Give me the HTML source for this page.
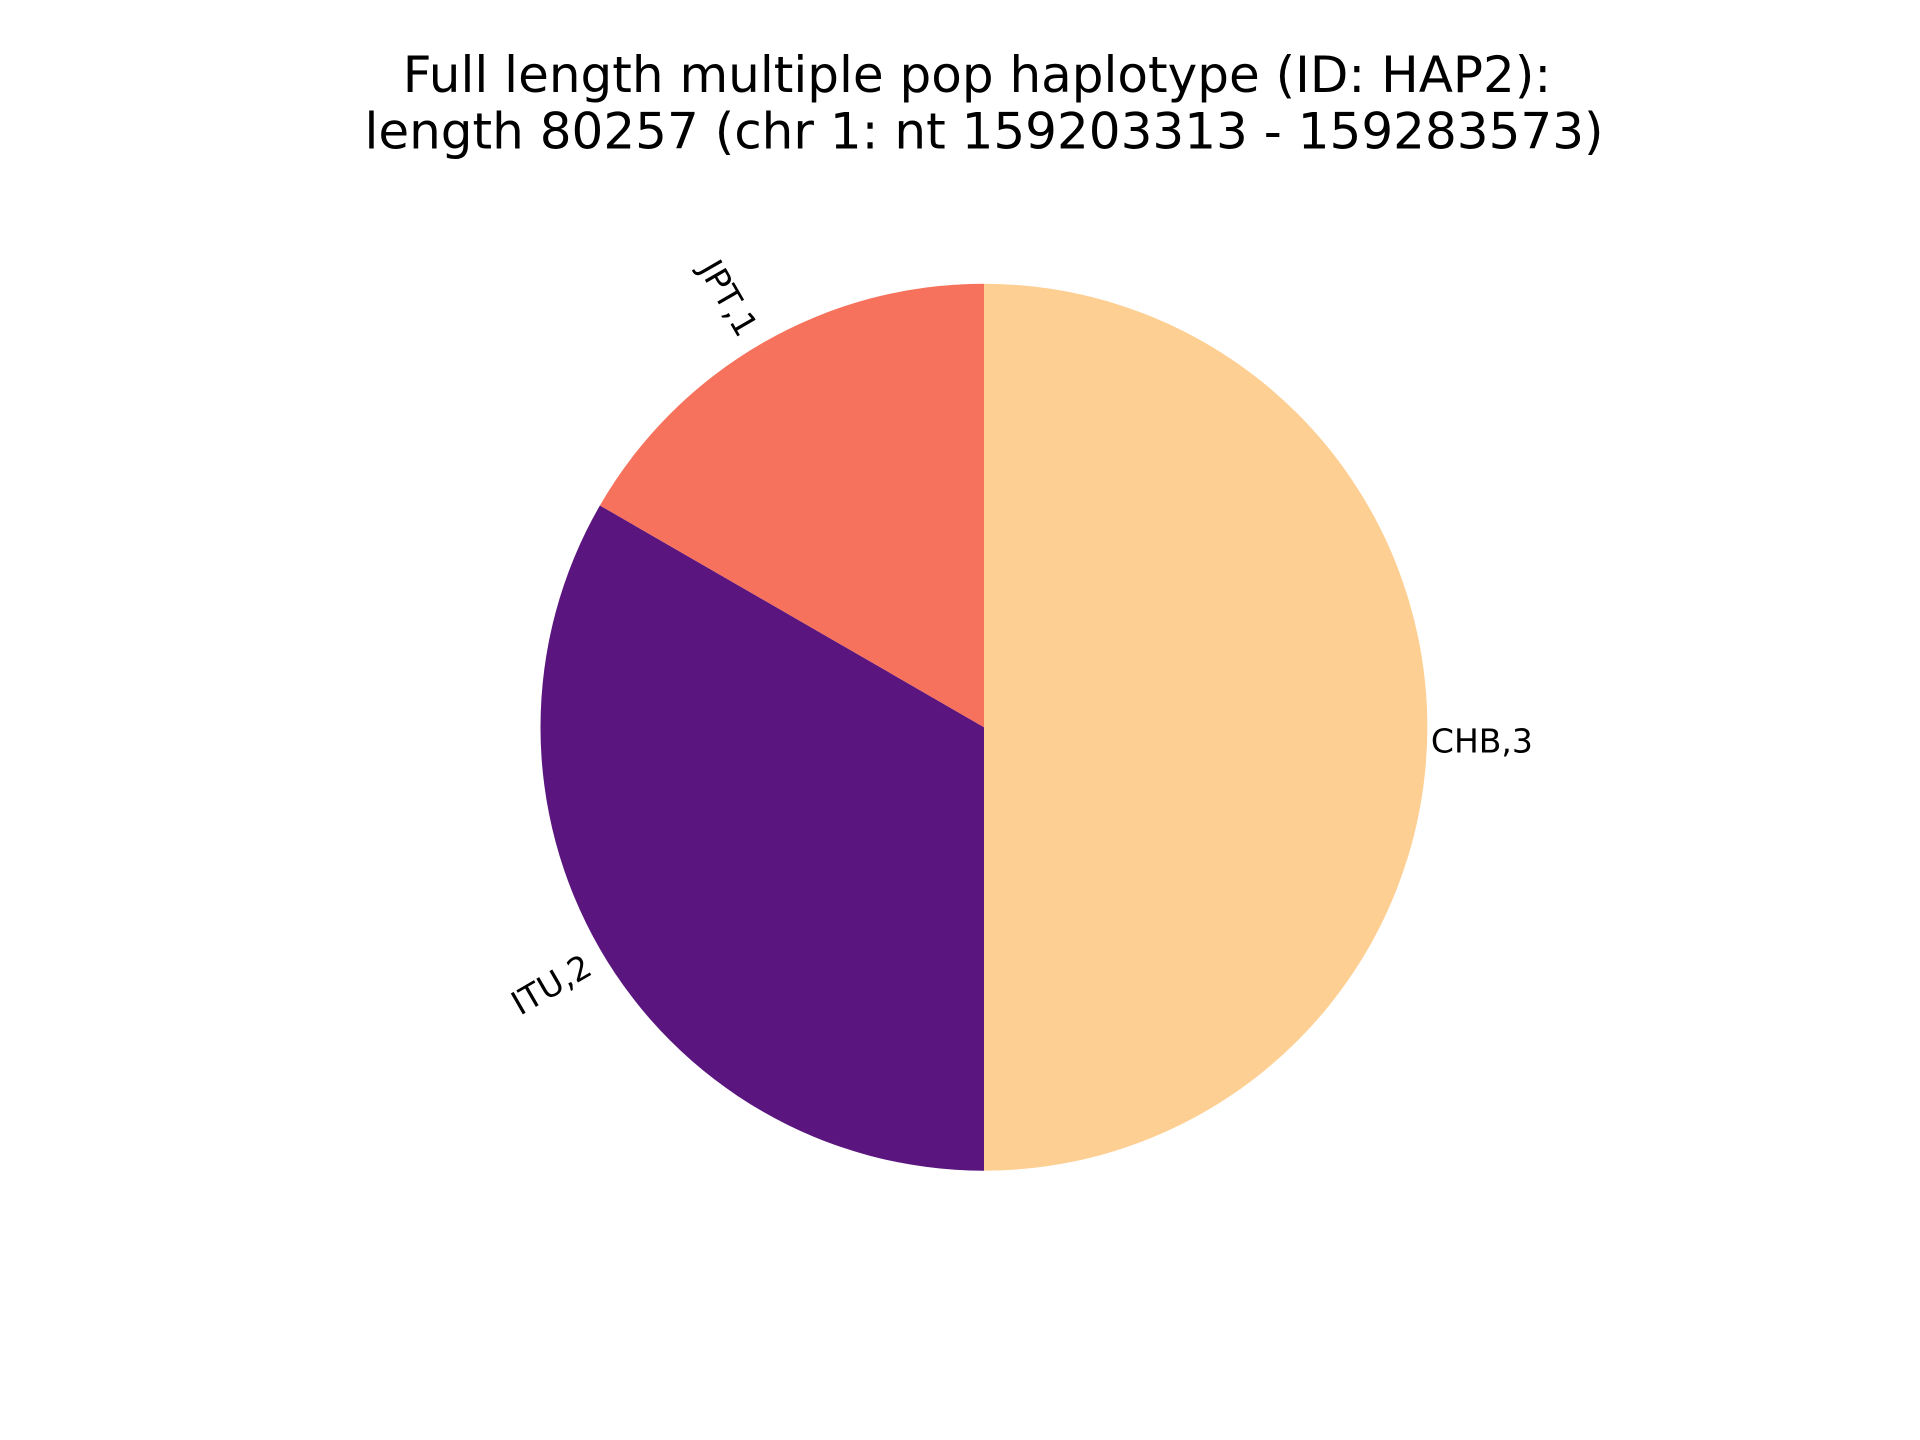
<!DOCTYPE html>
<html lang="en">
<head>
<meta charset="utf-8">
<title>Full length multiple pop haplotype (ID: HAP2)</title>
<style>
html,body{margin:0;padding:0;background:#fff;width:1920px;height:1440px;overflow:hidden}
svg{display:block}
text{font-family:"DejaVu Sans",sans-serif;fill:#000}
</style>
</head>
<body>
<svg id="chart" xmlns="http://www.w3.org/2000/svg" width="1920" height="1440" viewBox="0 0 1920 1440">
  <rect width="1920" height="1440" fill="#ffffff"/>
  <g text-anchor="middle" font-size="50">
    <text x="977" y="92">Full length multiple pop haplotype (ID: HAP2):</text>
    <text x="984" y="148.5">length 80257 (chr 1: nt 159203313 - 159283573)</text>
  </g>
  <g id="wedges"></g>
  <g id="labels" font-size="33"></g>
</svg>
<script>
const categories = ['CHB', 'ITU', 'JPT'];
const counts = [3, 2, 1];
const sliceColors = ['#fecf92', '#5a167e', '#f7725c'];

const cx = 984, cy = 727.2, radius = 443.5;
const startAngle = 90, labelDistance = 1.01, labelFontSize = 33;
const leftPerp = -7, rightAlong = -1;
const svgNS = 'http://www.w3.org/2000/svg';
const wedgeLayer = document.getElementById('wedges');
const labelLayer = document.getElementById('labels');
const total = counts.reduce((a, b) => a + b, 0);

function angleOf(cumulative) {
  return startAngle - cumulative / total * 360;
}
function px(deg, r) {
  return cx + r * Math.cos(deg * Math.PI / 180);
}
function py(deg, r) {
  return cy - r * Math.sin(deg * Math.PI / 180);
}
function leftAlong(rotation) {
  return -15.5 + 5.5 * Math.abs(Math.sin(rotation * Math.PI / 180));
}

let running = 0;
counts.forEach(function (value, i) {
  const a0 = angleOf(running);
  const a1 = angleOf(running + value);
  const mid = (a0 + a1) / 2;
  running += value;
  const large = (a0 - a1) > 180 ? 1 : 0;

  const path = document.createElementNS(svgNS, 'path');
  path.setAttribute('d', 'M' + cx + ' ' + cy + ' L' + px(a0, radius) + ' ' + py(a0, radius) +
    ' A' + radius + ' ' + radius + ' 0 ' + large + ' 1 ' + px(a1, radius) + ' ' + py(a1, radius) + ' Z');
  path.setAttribute('fill', sliceColors[i]);
  
  
  wedgeLayer.appendChild(path);

  const lx = px(mid, radius * labelDistance);
  const ly = py(mid, radius * labelDistance);
  const onRight = Math.cos(mid * Math.PI / 180) >= 0;
  const rotation = onRight ? -mid : -(mid + 180);
  const label = document.createElementNS(svgNS, 'text');
  label.textContent = categories[i] + ',' + value;
  label.setAttribute('transform', 'translate(' + lx + ' ' + ly + ') rotate(' + rotation + ')');
  label.setAttribute('x', onRight ? rightAlong : leftAlong(rotation));
  label.setAttribute('y', labelFontSize * 0.76 + (onRight ? 0 : leftPerp));
  label.setAttribute('text-anchor', onRight ? 'start' : 'end');
  
  
  labelLayer.appendChild(label);
});
</script>
</body>
</html>
